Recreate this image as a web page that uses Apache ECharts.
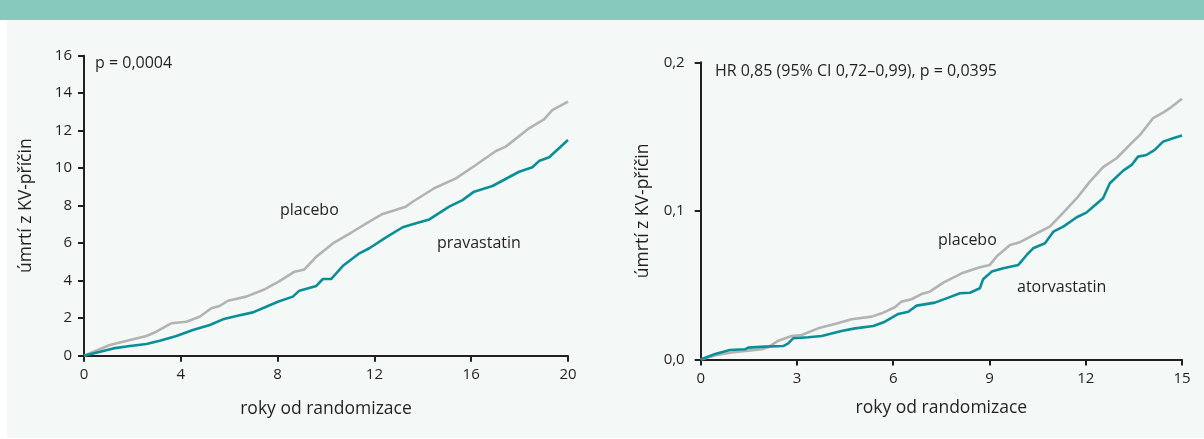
<!DOCTYPE html>
<html>
<head>
<meta charset="utf-8">
<script src="https://cdn.jsdelivr.net/npm/echarts@6/dist/echarts.min.js"></script>
<style>
  html, body { margin: 0; padding: 0; background: #ffffff; }
  #band { position: absolute; left: 0; top: 0; width: 1204px; height: 20px; background: #86cabd; }
  #panel { position: absolute; left: 7px; top: 20px; width: 1197px; height: 418px; background: #f4f8f7; }
  #chart { position: absolute; left: 0; top: 0; width: 1204px; height: 439px; }
</style>
</head>
<body>
<div id="band"></div>
<div id="panel"></div>
<div id="chart"></div>
<script>
// ---- Left panel (pravastatin vs placebo), x = years, y = % ----
const leftXTicks = [0, 4, 8, 12, 16, 20];
const leftYTicks = [0, 2, 4, 6, 8, 10, 12, 14, 16];
const leftPlaceboYears = [0, 1.07, 1.9, 2.58, 2.99, 3.6, 4.23, 4.78, 5.26, 5.6, 5.95, 6.7, 7.4, 8.08, 8.7, 9.11, 9.6, 10.28, 11.1, 11.79, 12.34, 13.3, 13.58, 14.47, 15.37, 16.19, 17.02, 17.43, 18.39, 19.01, 19.35, 20];
const leftPlaceboValues = [0, 0.57, 0.84, 1.05, 1.28, 1.73, 1.81, 2.08, 2.53, 2.65, 2.93, 3.15, 3.5, 3.98, 4.48, 4.6, 5.28, 5.99, 6.61, 7.15, 7.56, 7.95, 8.21, 8.93, 9.46, 10.17, 10.92, 11.15, 12.13, 12.61, 13.1, 13.55];
const leftPravaYears = [0, 1.21, 1.9, 2.58, 3.13, 3.82, 4.5, 5.2, 5.74, 6.3, 6.98, 7.53, 8.01, 8.63, 8.9, 9.6, 9.87, 10.21, 10.69, 11.38, 11.79, 12.48, 13.17, 13.72, 14.27, 15.09, 15.64, 16.12, 16.88, 17.98, 18.53, 18.8, 19.22, 20];
const leftPravaValues = [0, 0.39, 0.52, 0.62, 0.8, 1.05, 1.37, 1.64, 1.94, 2.12, 2.31, 2.61, 2.88, 3.15, 3.47, 3.72, 4.09, 4.09, 4.78, 5.46, 5.73, 6.31, 6.85, 7.06, 7.27, 7.95, 8.3, 8.75, 9.05, 9.81, 10.05, 10.38, 10.58, 11.5];

// ---- Right panel (atorvastatin vs placebo), x = years, y = proportion ----
const rightXTicks = [0, 3, 6, 9, 12, 15];
const rightYTicks = ['0,0', '0,1', '0,2'];
const rightPlaceboYears = [0, 0.5, 1.02, 1.48, 1.9, 2.1, 2.42, 2.83, 3.15, 3.66, 4.18, 4.7, 5.33, 5.64, 6.05, 6.26, 6.57, 6.88, 7.14, 7.56, 8.18, 8.7, 9.01, 9.22, 9.64, 9.95, 10.47, 10.88, 11.3, 11.72, 12.13, 12.54, 12.96, 13.37, 13.69, 14.1, 14.41, 14.62, 15];
const rightPlaceboValues = [0, 0.003, 0.0048, 0.0059, 0.0068, 0.0081, 0.0126, 0.0158, 0.0164, 0.0209, 0.0238, 0.027, 0.0288, 0.031, 0.0351, 0.0389, 0.0405, 0.044, 0.0456, 0.0517, 0.0584, 0.062, 0.0636, 0.0692, 0.077, 0.0789, 0.0849, 0.0894, 0.0988, 0.1085, 0.1197, 0.1294, 0.1354, 0.1444, 0.1511, 0.1624, 0.1661, 0.1691, 0.1755];
const rightAtorYears = [0, 0.45, 0.91, 1.38, 1.48, 2.0, 2.57, 2.73, 2.88, 3.35, 3.77, 4.39, 4.81, 5.38, 5.74, 6.16, 6.47, 6.73, 7.3, 7.66, 8.08, 8.39, 8.7, 8.8, 9.07, 9.43, 9.9, 10.16, 10.36, 10.73, 10.99, 11.3, 11.72, 12.02, 12.23, 12.54, 12.75, 13.17, 13.43, 13.63, 13.89, 14.15, 14.41, 14.72, 15];
const rightAtorValues = [0, 0.0036, 0.0063, 0.0068, 0.0079, 0.0086, 0.009, 0.0108, 0.0142, 0.0149, 0.0158, 0.0191, 0.0209, 0.0225, 0.0254, 0.0306, 0.0321, 0.0362, 0.0382, 0.0411, 0.0445, 0.0449, 0.0479, 0.0539, 0.0591, 0.0613, 0.0636, 0.0703, 0.0748, 0.0782, 0.086, 0.0894, 0.0957, 0.0988, 0.1028, 0.1085, 0.1186, 0.1271, 0.1309, 0.1365, 0.1376, 0.141, 0.1466, 0.1489, 0.1508];

// ---- Texts ----
const axisXName = 'roky od randomizace';
const axisYName = 'úmrtí z KV-příčin';
const leftStatText = 'p = 0,0004';
const rightStatText = 'HR 0,85 (95% CI 0,72–0,99), p = 0,0395';
const leftLabels = ['placebo', 'pravastatin'];
const rightLabels = ['placebo', 'atorvastatin'];

const zip = (xs, ys) => xs.map((x, i) => [x, ys[i]]);

const FONT = '"Open Sans", sans-serif';
const AX = '#231f20';
const GREY = '#b3b3b3';
const TEAL = '#0a8f97';
const NAME_SIZE = 17.5;
const NOTE_FONT = '16px ' + FONT;

function xAxisCfg(grid, ticks, gap) {
  return {
    type: 'value', gridIndex: grid,
    min: ticks[0], max: ticks[ticks.length - 1], interval: ticks[1] - ticks[0],
    name: axisXName, nameLocation: 'middle', nameGap: gap,
    nameTextStyle: { color: AX, fontSize: NAME_SIZE, fontFamily: FONT },
    axisLine: { show: true, lineStyle: { color: AX, width: 2 } },
    axisTick: { show: true, length: 6, lineStyle: { color: AX, width: 2 } },
    axisLabel: { color: AX, fontSize: 15, fontFamily: FONT, margin: 12 },
    splitLine: { show: false }
  };
}

const chart = echarts.init(document.getElementById('chart'), null, { renderer: 'canvas' });
chart.setOption({
  backgroundColor: 'transparent',
  animation: false,
  grid: [
    { left: 84, right: 636, top: 55.7, bottom: 83.3, containLabel: false },
    { left: 700.7, right: 22, top: 62.3, bottom: 79.6, containLabel: false }
  ],
  xAxis: [
    xAxisCfg(0, leftXTicks, 44),
    xAxisCfg(1, rightXTicks, 40)
  ],
  yAxis: [
    {
      type: 'value', gridIndex: 0, min: leftYTicks[0], max: leftYTicks[leftYTicks.length - 1],
      interval: leftYTicks[1] - leftYTicks[0],
      name: axisYName, nameLocation: 'middle', nameGap: 49, nameRotate: 90,
      nameTextStyle: { color: AX, fontSize: NAME_SIZE, fontFamily: FONT },
      axisLine: { show: true, lineStyle: { color: AX, width: 2 } },
      axisTick: { show: true, length: 6, lineStyle: { color: AX, width: 2 } },
      axisLabel: { color: AX, fontSize: 15, fontFamily: FONT, margin: 12 },
      splitLine: { show: false }
    },
    {
      type: 'value', gridIndex: 1, min: 0, max: 0.2, interval: 0.1,
      name: axisYName, nameLocation: 'middle', nameGap: 49, nameRotate: 90,
      nameTextStyle: { color: AX, fontSize: NAME_SIZE, fontFamily: FONT },
      axisLine: { show: true, lineStyle: { color: AX, width: 2 } },
      axisTick: { show: true, length: 6, lineStyle: { color: AX, width: 2 } },
      axisLabel: {
        color: AX, fontSize: 15, fontFamily: FONT, margin: 16,
        formatter: (v) => rightYTicks[Math.round(v * 10)]
      },
      splitLine: { show: false }
    }
  ],
  series: [
    { type: 'line', xAxisIndex: 0, yAxisIndex: 0, data: zip(leftPlaceboYears, leftPlaceboValues),
      showSymbol: false, lineStyle: { color: GREY, width: 2.6 }, z: 2 },
    { type: 'line', xAxisIndex: 0, yAxisIndex: 0, data: zip(leftPravaYears, leftPravaValues),
      showSymbol: false, lineStyle: { color: TEAL, width: 2.6 }, z: 3 },
    { type: 'line', xAxisIndex: 1, yAxisIndex: 1, data: zip(rightPlaceboYears, rightPlaceboValues),
      showSymbol: false, lineStyle: { color: GREY, width: 2.6 }, z: 2 },
    { type: 'line', xAxisIndex: 1, yAxisIndex: 1, data: zip(rightAtorYears, rightAtorValues),
      showSymbol: false, lineStyle: { color: TEAL, width: 2.6 }, z: 3 }
  ],
  graphic: [
    { type: 'text', left: 95, top: 55, style: { text: leftStatText, fill: AX, font: NOTE_FONT } },
    { type: 'text', left: 715, top: 63, style: { text: rightStatText, fill: AX, font: NOTE_FONT } },
    { type: 'text', left: 280, top: 202, style: { text: leftLabels[0], fill: AX, font: NOTE_FONT } },
    { type: 'text', left: 437, top: 235, style: { text: leftLabels[1], fill: AX, font: NOTE_FONT } },
    { type: 'text', left: 938, top: 232, style: { text: rightLabels[0], fill: AX, font: NOTE_FONT } },
    { type: 'text', left: 1017, top: 279, style: { text: rightLabels[1], fill: AX, font: NOTE_FONT } }
  ]
});
</script>
</body>
</html>
